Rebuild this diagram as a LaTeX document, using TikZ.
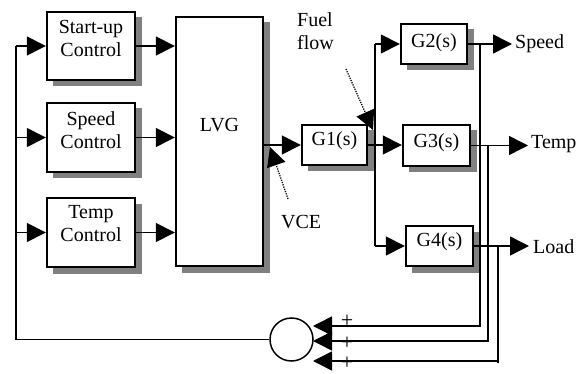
\documentclass[tikz,border=0pt]{standalone}
\usepackage{fontspec}
\setmainfont{Liberation Serif}
\usetikzlibrary{arrows.meta,calc}
\begin{document}
\begin{tikzpicture}[x=1pt,y=-1pt,
  box/.style={draw, line width=2.4pt, fill=white, inner sep=0pt,
    preaction={fill=black!50, draw=black!50, line width=0pt, transform canvas={shift={(6pt,-6pt)}}}},
  lab/.style={inner sep=0pt, align=center, font=\fontsize{20}{23}\selectfont},
  plus/.style={inner sep=0pt, font=\fontsize{22}{22}\selectfont},
  ln/.style={line width=1.5pt},
  arr/.style={line width=1.5pt, -{Triangle[length=19pt,width=19pt]}},
  dotarr/.style={line width=1.3pt, dash pattern=on 1.2pt off 1.2pt, -{Triangle[length=19pt,width=19pt]}}]
\useasboundingbox (0,0) rectangle (583,374);
% boxes
\node[box, minimum width=88pt, minimum height=68pt] (su) at (91,46) {};
\node[box, minimum width=88pt, minimum height=69pt] (sc) at (91,137.5) {};
\node[box, minimum width=88pt, minimum height=69pt] (tc) at (91,232.5) {};
\node[box, minimum width=87pt, minimum height=249pt] (lvg) at (219.5,141.5) {};
\node[box, minimum width=65pt, minimum height=40pt] (g1) at (334.5,145) {};
\node[box, minimum width=66pt, minimum height=40pt] (g2) at (434,44) {};
\node[box, minimum width=67pt, minimum height=41pt] (g3) at (436.5,145.5) {};
\node[box, minimum width=67pt, minimum height=40pt] (g4) at (439.5,246) {};
\node[draw, circle, line width=1.5pt, minimum size=43pt, inner sep=0pt] (sum) at (291.5,339.5) {};
% texts in boxes
\node[lab] (tsu) at (91,38) {Start-up\\Control};
\node[lab] (tsc) at (91,130) {Speed\\Control};
\node[lab] (ttc) at (91,224) {Temp\\Control};
\node[lab] (tlvg) at (219.5,125) {LVG};
\node[lab] (tg1) at (334.5,140.5) {G1(s)};
\node[lab] (tg2) at (434,42.5) {G2(s)};
\node[lab] (tg3) at (436.5,143) {G3(s)};
\node[lab] (tg4) at (439.5,242) {G4(s)};
% other texts
\node[lab, align=left, anchor=west] (tfuel) at (297,31) {Fuel\\flow};
\node[lab, anchor=west] (tvce) at (281,222) {VCE};
\node[lab, anchor=west] (tspd) at (515,44) {Speed};
\node[lab, anchor=west] (ttmp) at (531,144) {Temp};
\node[lab, anchor=west] (tload) at (533,247) {Load};
\node[plus] (p1) at (347,321) {+};
\node[plus] (p2) at (347,343) {+};
\node[plus] (p3) at (347,363.5) {+};
% left feedback
\coordinate (lt) at (16,46);
\draw[ln] (sum.west) -| (lt);
\draw[arr] (lt) -- (su.west);
\draw[arr] (lt |- sc.west) -- (sc.west);
\draw[arr] (lt |- tc.west) -- (tc.west);
% controls to LVG
\draw[arr] (su.east) -- (su.east -| lvg.west);
\draw[arr] (sc.east) -- (sc.east -| lvg.west);
\draw[arr] (tc.east) -- (tc.east -| lvg.west);
% LVG to G1
\draw[arr] (lvg.east |- g1.west) -- (g1.west);
% G1 to branches
\coordinate (br) at (375,145);
\draw[arr] (g1.east) -- (g1.east -| g3.west);
\draw[ln] (br |- g2.west) -- (br |- g4.west);
\draw[arr] (br |- g2.west) -- (g2.west);
\draw[arr] (br |- g4.west) -- (g4.west);
% outputs
\coordinate (ospd) at (512,44);
\coordinate (otmp) at (528,145);
\coordinate (olod) at (529,247);
\draw[arr] (g2.east) -- (g2.east -| ospd);
\draw[arr] (g3.east) -- (g3.east -| otmp);
\draw[arr] (g4.east) -- (g4.east -| olod);
% feedback to sum
\coordinate (fs) at (480,44);
\coordinate (ft) at (488,145);
\coordinate (fl) at (498,247);
\coordinate (fle) at (498,363);
\coordinate (s1) at (313,326);
\coordinate (s2) at (313,341);
\coordinate (s3) at (313,361);
\draw[arr] (fs) |- (s1);
\draw[arr] (ft) |- (s2);
\draw[ln] (fl) -- (fle);
\draw[arr] (fle |- s3) -- (s3);
% dotted disturbance arrows
\coordinate (ff0) at (346,69);
\coordinate (ff1) at (373,130);
\coordinate (vc0) at (288,199);
\coordinate (vc1) at (270,147);
\draw[dotarr] (ff0) -- (ff1);
\draw[dotarr] (vc0) -- (vc1);
\end{tikzpicture}
\end{document}
